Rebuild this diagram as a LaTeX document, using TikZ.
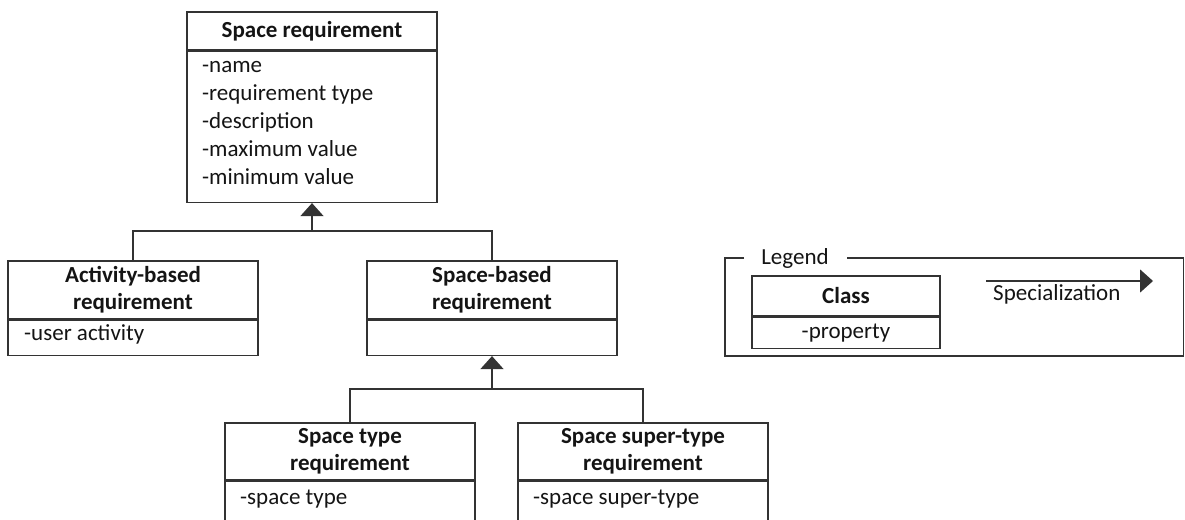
\documentclass[tikz,border=0pt]{standalone}
\usepackage{fontspec}
\setmainfont{Carlito}
\usetikzlibrary{arrows.meta}
\definecolor{linec}{gray}{0.2}
\definecolor{textc}{gray}{0.08}
\tikzset{
  x=1pt, y=-1pt,
  hdr/.style={draw=linec, line width=1.4pt, minimum width=250pt, inner sep=0pt,
    font=\bfseries\fontsize{23}{27}\selectfont, align=center, text=textc},
  attrbox/.style={draw=linec, line width=1.4pt, minimum width=250pt, inner sep=0pt},
  attr/.style={anchor=mid west, inner sep=0pt, font=\fontsize{23}{27}\selectfont, text=textc},
  conn/.style={draw=linec, line width=1.4pt},
  gen/.style={conn, -{Triangle[width=23pt,length=13pt]}},
  legendtxt/.style={inner sep=0pt, font=\fontsize{23}{27}\selectfont, text=textc},
}
\begin{document}
\begin{tikzpicture}
\useasboundingbox (0,0) rectangle (1185,519);
\clip (0,0) rectangle (1185,519);

% Space requirement
\node[hdr, minimum height=38pt] (sr) at (312,31) {Space requirement};
\node[attrbox, minimum height=151pt, anchor=north] (sra) at (sr.south) {};
\node[attr] (sr1) at (202,70) {-name};
\node[attr] (sr2) at (202,98) {-requirement type};
\node[attr] (sr3) at (202,126) {-description};
\node[attr] (sr4) at (202,154) {-maximum value};
\node[attr] (sr5) at (202,182) {-minimum value};

% Activity-based requirement
\node[hdr, minimum height=58pt] (ab) at (133,290) {Activity-based\\requirement};
\node[attrbox, minimum height=35pt, anchor=north] (aba) at (ab.south) {};
\node[attr] (ab1) at (24,338) {-user activity};

% Space-based requirement
\node[hdr, minimum height=58pt] (sb) at (492,290) {Space-based\\requirement};
\node[attrbox, minimum height=35pt, anchor=north] (sba) at (sb.south) {};

% Space type requirement
\node[hdr, minimum height=57pt] (st) at (350,451.5) {Space type\\requirement};
\node[attrbox, minimum height=60pt, anchor=north] (sta) at (st.south) {};
\node[attr] (st1) at (240,502) {-space type};

% Space super-type requirement
\node[hdr, minimum height=57pt] (ss) at (643,451.5) {Space super-type\\requirement};
\node[attrbox, minimum height=60pt, anchor=north] (ssa) at (ss.south) {};
\node[attr] (ss1) at (533,502) {-space super-type};

% Generalizations
\coordinate (j1) at (312,231);
\draw[conn] (ab.north) |- (j1) -| (sb.north);
\draw[gen] (j1) -- (sra.south);
\coordinate (j2) at (492,389);
\draw[conn] (st.north) |- (j2) -| (ss.north);
\draw[gen] (j2) -- (sba.south);

% Legend
\node[legendtxt] (lg) at (795,258) {Legend};
\coordinate (fr) at (1183.5,356);
\draw[conn] (lg.west) ++(-17,0) coordinate (lgl) -| (725,356) -- (fr) |- ([xshift=18pt]lg.east);
\node[hdr, minimum width=188pt, minimum height=40pt] (cl) at (846,296) {Class};
\node[attrbox, minimum width=188pt, minimum height=31pt, anchor=north] (cla) at (cl.south) {};
\node[legendtxt] (clp) at (cla.center) {-property};
\coordinate (sp1) at (986,281);
\coordinate (sp2) at (1153,281);
\draw[gen] (sp1) -- (sp2);
\node[legendtxt, anchor=mid west] (spt) at (993,298) {Specialization};
\end{tikzpicture}
\end{document}
